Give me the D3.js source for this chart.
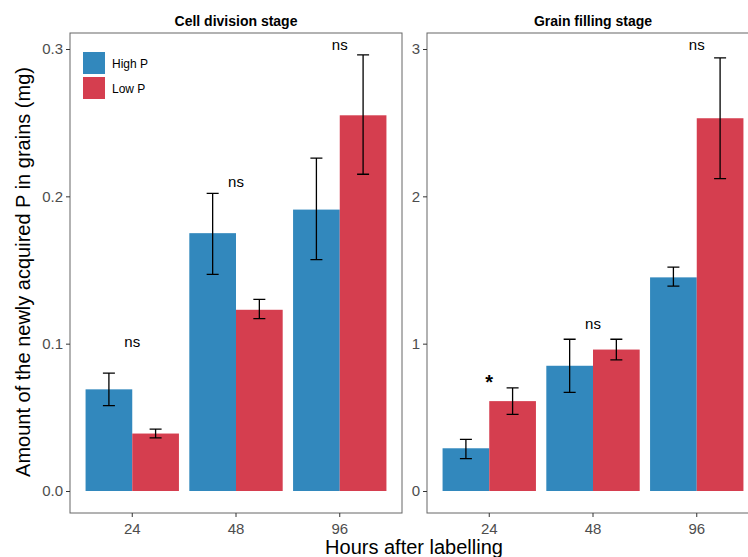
<!DOCTYPE html>
<html><head><meta charset="utf-8">
<script src="https://cdn.jsdelivr.net/npm/d3@7"></script>
<style>body{margin:0;background:#fff;overflow:hidden}text{font-family:"Liberation Sans",Arial,sans-serif}</style>
</head><body><svg id="c" width="748" height="557"></svg>
<script>
var hours = ["24", "48", "96"];
var series = ["High P", "Low P"];
var colors = ["#3288bd", "#d53e4f"];
var panels = ["Cell division stage", "Grain filling stage"];
// [group][series] = [mean, lo, hi]
var cellVals = [[[0.069,0.058,0.080],[0.039,0.036,0.042]],
                [[0.175,0.147,0.202],[0.123,0.117,0.130]],
                [[0.191,0.157,0.226],[0.255,0.215,0.296]]];
var fillVals = [[[0.29,0.22,0.35],[0.61,0.52,0.70]],
                [[0.85,0.67,1.03],[0.96,0.89,1.03]],
                [[1.45,1.39,1.52],[2.53,2.12,2.94]]];
var cellSig = ["ns","ns","ns"];
var fillSig = ["*","ns","ns"];
var cellSigY = [0.098, 0.206, 0.299];
var fillSigY = [0.73, 1.10, 2.99];
var cellTicks = [0, 0.1, 0.2, 0.3];
var fillTicks = [0, 1, 2, 3];

var svg = d3.select("#c");
var panelTop = 33, panelBottom = 513;
var defs = [
  {x0:70, vals:cellVals, sig:cellSig, sigY:cellSigY, ticks:cellTicks, max:0.3, fmt:d3.format(".1f")},
  {x0:427, vals:fillVals, sig:fillSig, sigY:fillSigY, ticks:fillTicks, max:3, fmt:d3.format("d")}
];
defs.forEach(function(p, pi){
  var w = 332;
  var g = svg.append("g").attr("transform","translate("+p.x0+",0)");
  var x = d3.scaleBand().domain(hours).range([0,w]).paddingInner(0.1).paddingOuter(0.15);
  var xs = d3.scaleBand().domain(series).range([0,x.bandwidth()]);
  var y = d3.scaleLinear().domain([0,p.max]).range([491,49]);
  g.append("text").attr("x",w/2).attr("y",26).attr("text-anchor","middle")
    .attr("font-weight","bold").attr("font-size",14).text(panels[pi]);
  hours.forEach(function(h, hi){
    var gg = g.append("g").attr("transform","translate("+x(h)+",0)");
    series.forEach(function(s, si){
      var v = p.vals[hi][si];
      gg.append("rect").attr("x",xs(s)).attr("width",xs.bandwidth())
        .attr("y",y(v[0])).attr("height",y(0)-y(v[0])).attr("fill",colors[si]);
      var cx = xs(s)+xs.bandwidth()/2;
      gg.append("path").attr("d","M"+(cx-6)+","+y(v[1])+"H"+(cx+6)+"M"+cx+","+y(v[1])+"V"+y(v[2])+"M"+(cx-6)+","+y(v[2])+"H"+(cx+6))
        .attr("stroke","#000").attr("stroke-width",1.3).attr("fill","none");
    });
    var star = p.sig[hi] === "*";
    gg.append("text").attr("x",x.bandwidth()/2).attr("y",y(p.sigY[hi]) + (star?6:0))
      .attr("text-anchor","middle").attr("font-size",star?20:15).attr("font-weight",star?"bold":"normal").text(p.sig[hi]);
  });
  g.append("rect").attr("x",0).attr("y",panelTop).attr("width",w).attr("height",panelBottom-panelTop)
    .attr("fill","none").attr("stroke","#666").attr("stroke-width",1);
  var ya = g.append("g").call(d3.axisLeft(y).tickValues(p.ticks).tickFormat(p.fmt).tickSize(4));
  ya.select(".domain").remove();
  ya.selectAll("text").attr("font-size",15).attr("fill","#4d4d4d").style("font-family","Liberation Sans");
  ya.selectAll("line").attr("stroke","#333");
  var xa = g.append("g").attr("transform","translate(0,"+panelBottom+")").call(d3.axisBottom(x).tickSize(4));
  xa.select(".domain").remove();
  xa.selectAll("text").attr("font-size",15).attr("fill","#4d4d4d").attr("dy","0.9em").style("font-family","Liberation Sans");
  xa.selectAll("line").attr("stroke","#333");
  if (pi === 0) {
    series.forEach(function(s, si){
      g.append("rect").attr("x",13).attr("y",52+si*25).attr("width",22).attr("height",22).attr("fill",colors[si]);
      g.append("text").attr("x",42).attr("y",68+si*25).attr("font-size",12).text(s);
    });
  }
});
svg.append("text").attr("transform","translate(30,272) rotate(-90)").attr("text-anchor","middle")
  .attr("font-size",20).text("Amount of the newly acquired P in grains (mg)");
svg.append("text").attr("x",414).attr("y",554).attr("text-anchor","middle").attr("font-size",20).text("Hours after labelling");
</script></body></html>
